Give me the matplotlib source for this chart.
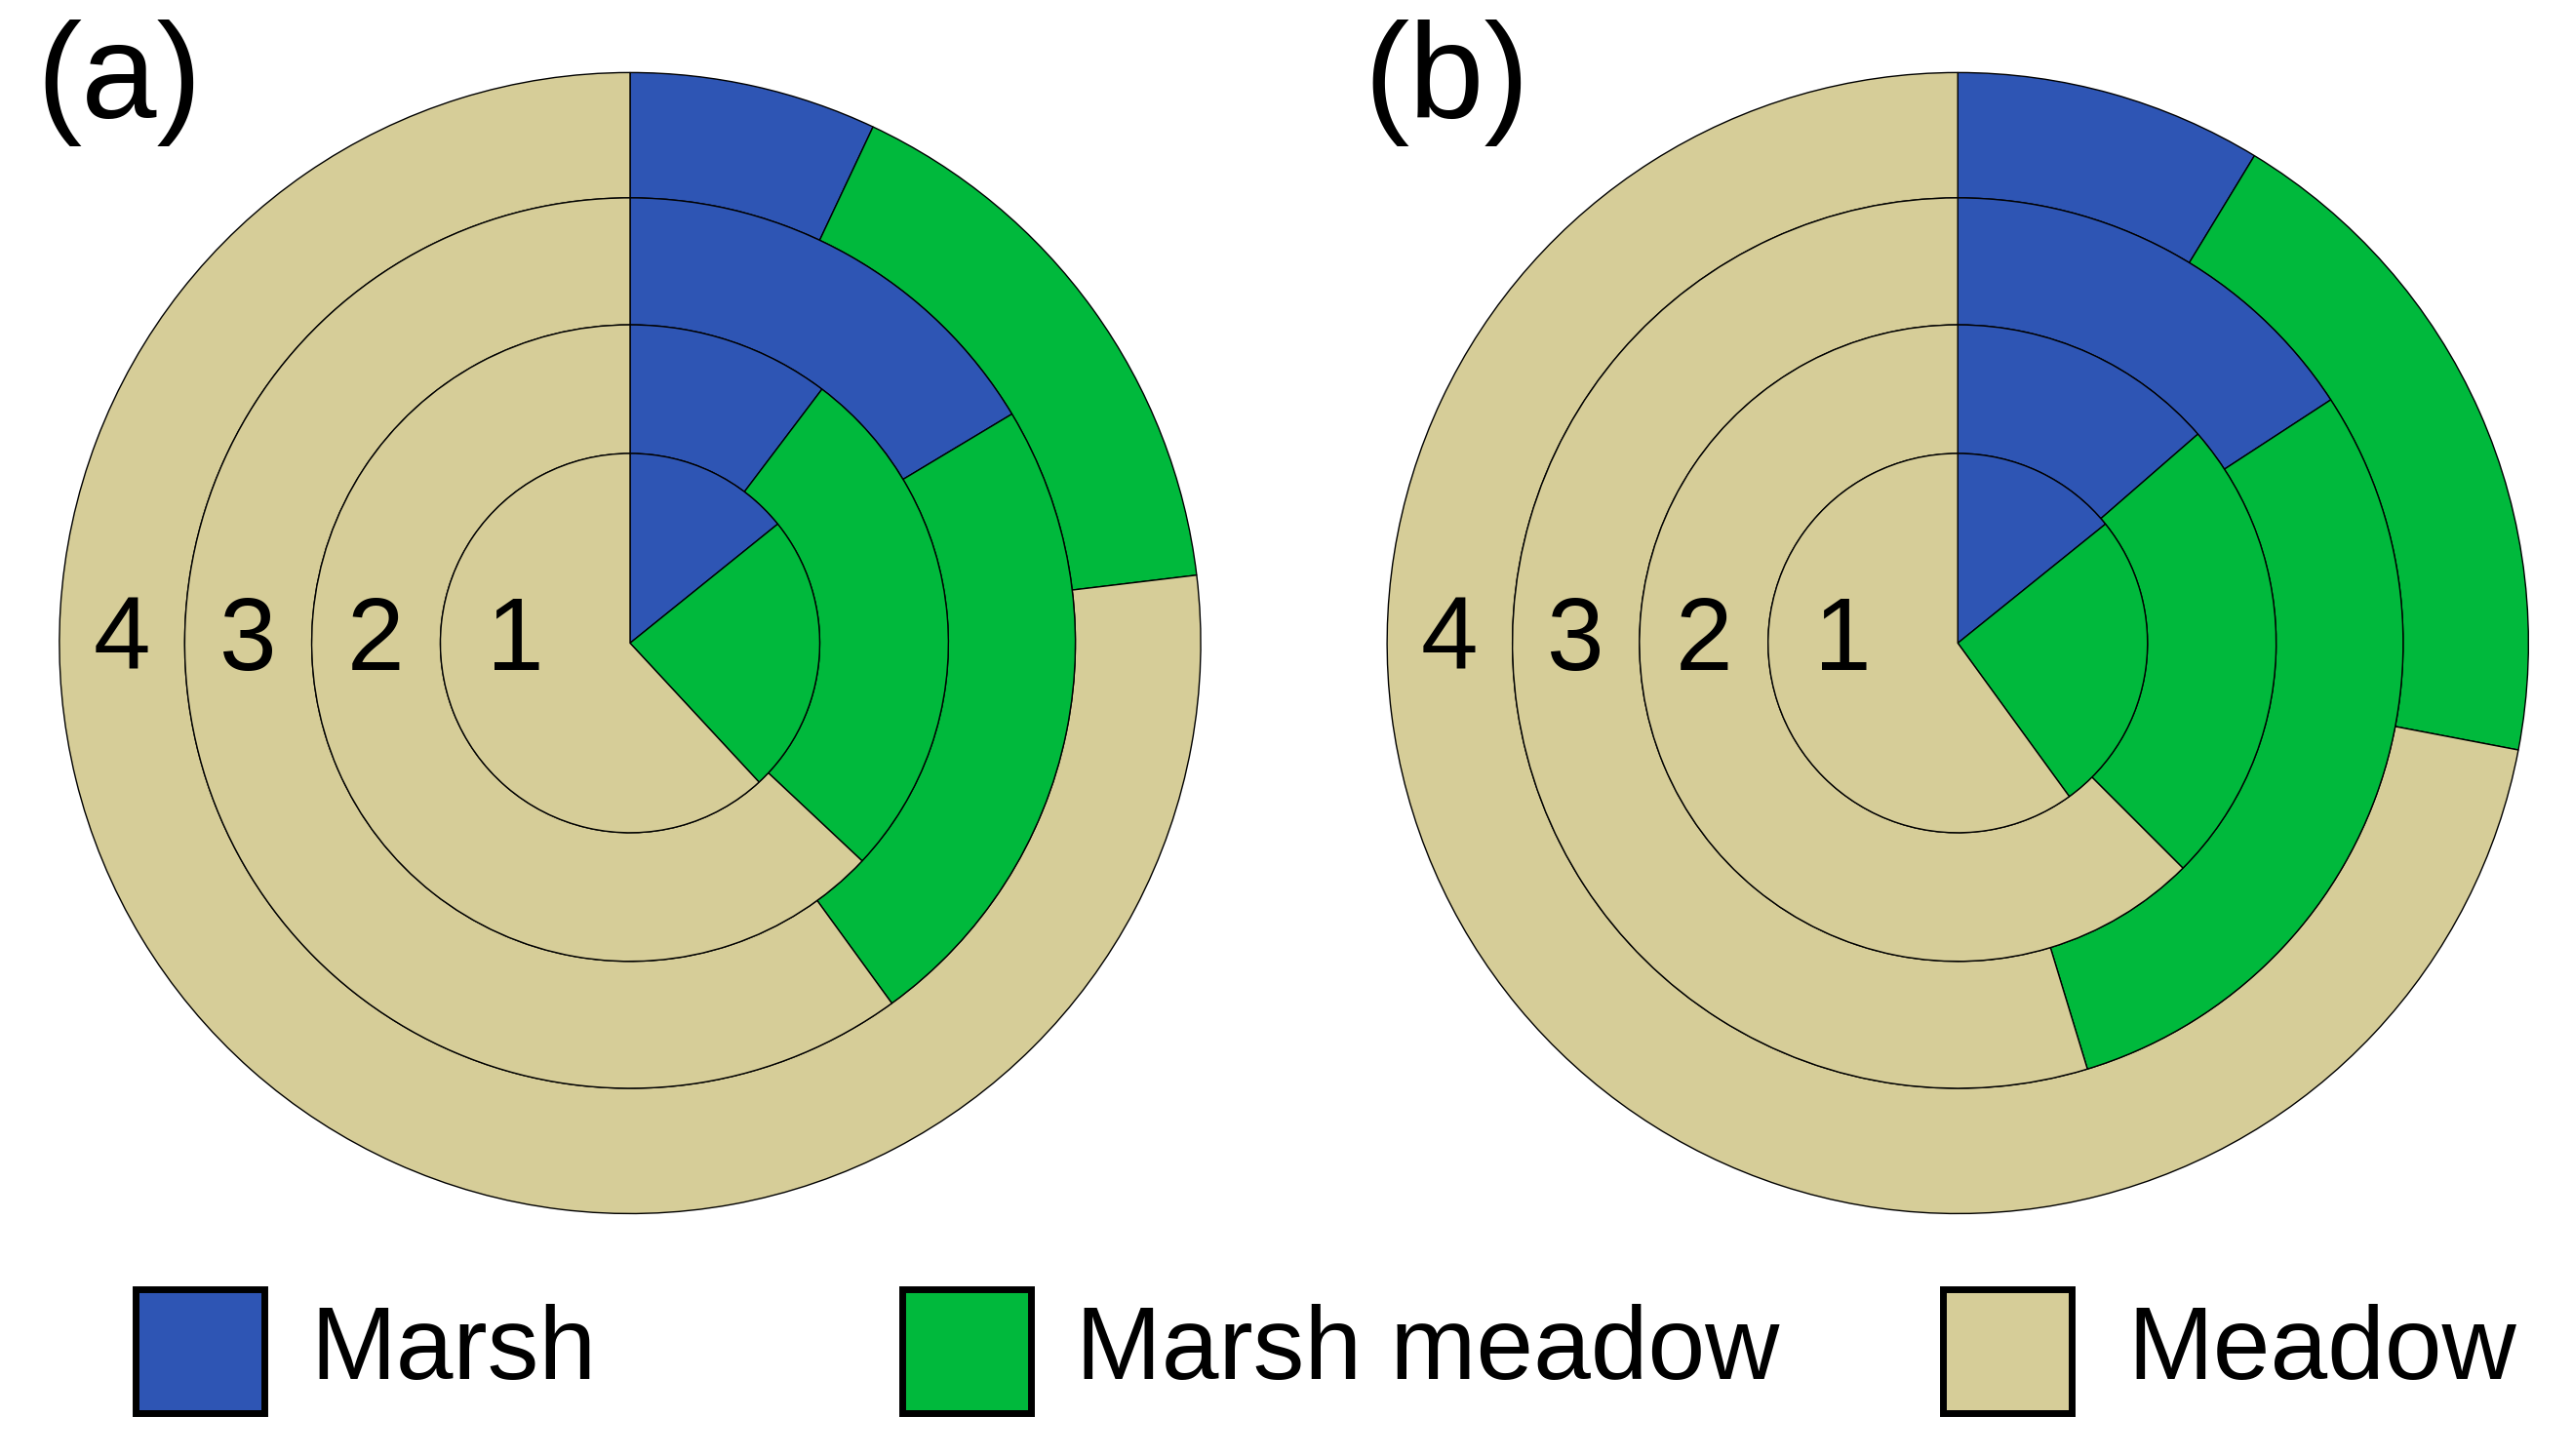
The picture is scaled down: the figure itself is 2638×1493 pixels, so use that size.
import matplotlib.pyplot as plt
from matplotlib.patches import Wedge, Rectangle

plt.rcParams['font.family'] = ['Liberation Sans', 'DejaVu Sans']

categories = ['Marsh', 'Marsh meadow', 'Meadow']
colors = ['#2e55b4', '#00b93c', '#d6cd98']
# percent share per ring (ring 1 = innermost)
panel_a = [[14.2, 23.9, 61.9],
           [10.3, 26.7, 63.0],
           [16.4, 23.6, 60.0],
           [7.0, 16.1, 76.9]]
panel_b = [[14.2, 25.8, 60.0],
           [13.6, 23.9, 62.5],
           [15.8, 29.5, 54.7],
           [8.7, 19.3, 72.0]]
ring_labels = ['1', '2', '3', '4']
radii = [115, 193, 270, 346]

W, H = 1560, 883
fig = plt.figure(figsize=(26.38, 14.93), dpi=100)
ax = fig.add_axes([0, 0, 1, 1])
ax.set_xlim(0, W)
ax.set_ylim(0, H)
ax.set_aspect('auto')
ax.axis('off')


def draw_panel(cx, cy, data, tag):
    for k in range(len(radii) - 1, -1, -1):
        r = radii[k]
        inner = radii[k - 1] if k > 0 else 0
        start = 0.0
        for val, col in zip(data[k], colors):
            end = start + val * 3.6
            ax.add_patch(Wedge((cx, cy), r, 90 - end, 90 - start,
                               width=r - inner, facecolor=col,
                               edgecolor='black', linewidth=1.0))
            start = end
    for k, lab in enumerate(ring_labels):
        inner = radii[k - 1] if k > 0 else 0
        ax.text(cx - (radii[k] + inner) / 2 - (12 if k == 0 else 0), cy, lab,
                fontsize=76, ha='center', va='center')
    ax.text(cx - 310, 833, tag, fontsize=100, ha='center', va='center')


draw_panel(382, 493, panel_a, '(a)')
draw_panel(1187, 493, panel_b, '(b)')

legend_x = [(82, 188), (547, 652), (1178, 1290)]
for (bx, tx), name, col in zip(legend_x, categories, colors):
    ax.add_patch(Rectangle((bx, 883 - 857), 78, 75, facecolor=col,
                           edgecolor='black', linewidth=5))
    ax.text(tx, 883 - 820, name, fontsize=76, ha='left', va='center')

fig.savefig('out.png', dpi=100)
